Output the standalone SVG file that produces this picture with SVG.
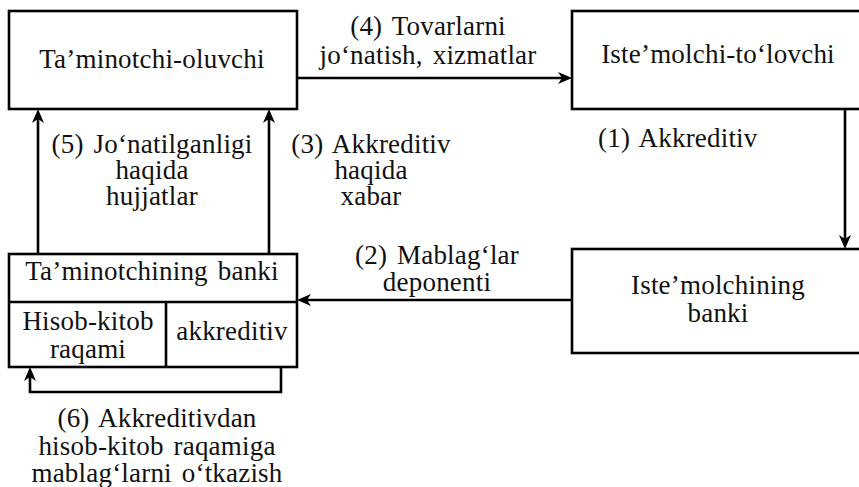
<svg xmlns="http://www.w3.org/2000/svg" width="859" height="487" viewBox="0 0 859 487">
<style>
.box{fill:#fff;stroke:#000;stroke-width:2.6}
.ln{fill:none;stroke:#000;stroke-width:2.6}
.t{font-family:"Liberation Serif","Times New Roman",serif;font-size:27px;fill:#111;letter-spacing:0.2px;word-spacing:3px}
.c{text-anchor:middle}
</style>
<defs>
<marker id="arr" viewBox="0 0 14 12" refX="10" refY="6" markerWidth="14" markerHeight="12" markerUnits="userSpaceOnUse" orient="auto">
<path d="M0,0 L14,6 L0,12 L4,6 Z" fill="#000"/>
</marker>
</defs>
<rect width="859" height="487" fill="#fff"/>
<g id="connectors">
<line class="ln" x1="297" y1="78" x2="568" y2="78" marker-end="url(#arr)"/>
<line class="ln" x1="845" y1="109" x2="845" y2="245" marker-end="url(#arr)"/>
<line class="ln" x1="572" y1="300" x2="301" y2="300" marker-end="url(#arr)"/>
<line class="ln" x1="38" y1="254" x2="38" y2="113" marker-end="url(#arr)"/>
<line class="ln" x1="269" y1="254" x2="269" y2="113" marker-end="url(#arr)"/>
<path class="ln" d="M281,367 V392 H30 V371" marker-end="url(#arr)"/>
</g>
<g id="taminotchi-oluvchi">
<rect class="box" x="9" y="11" width="288" height="98"/>
<text class="t c" x="152" y="68">Ta’minotchi-oluvchi</text>
</g>
<g id="istemolchi-tolovchi">
<rect class="box" x="572" y="11" width="292" height="98"/>
<text class="t c" x="718" y="63">Iste’molchi-to‘lovchi</text>
</g>
<g id="istemolchining-banki">
<rect class="box" x="572" y="249" width="292" height="104"/>
<text class="t c" x="718" y="294">Iste’molchining</text>
<text class="t c" x="718" y="322">banki</text>
</g>
<g id="taminotchining-banki">
<rect class="box" x="9" y="254" width="288" height="113"/>
<line class="ln" x1="9" y1="302" x2="297" y2="302"/>
<line class="ln" x1="166" y1="302" x2="166" y2="367"/>
<text class="t c" x="152" y="280">Ta’minotchining banki</text>
<text class="t c" x="88" y="330">Hisob-kitob</text>
<text class="t c" x="88" y="358">raqami</text>
<text class="t c" x="232" y="340">akkreditiv</text>
</g>
<g id="labels">
<text class="t c" x="428" y="35">(4) Tovarlarni</text>
<text class="t c" x="428" y="64">jo‘natish, xizmatlar</text>
<text class="t" x="598" y="147">(1) Akkreditiv</text>
<text class="t c" x="437" y="264">(2) Mablag‘lar</text>
<text class="t c" x="437" y="291">deponenti</text>
<text class="t c" x="152" y="153">(5) Jo‘natilganligi</text>
<text class="t c" x="152" y="179">haqida</text>
<text class="t c" x="152" y="205">hujjatlar</text>
<text class="t c" x="371" y="153">(3) Akkreditiv</text>
<text class="t c" x="371" y="179">haqida</text>
<text class="t c" x="371" y="205">xabar</text>
<text class="t c" x="157" y="427">(6) Akkreditivdan</text>
<text class="t c" x="157" y="455">hisob-kitob raqamiga</text>
<text class="t c" x="157" y="482">mablag‘larni o‘tkazish</text>
</g>
</svg>
